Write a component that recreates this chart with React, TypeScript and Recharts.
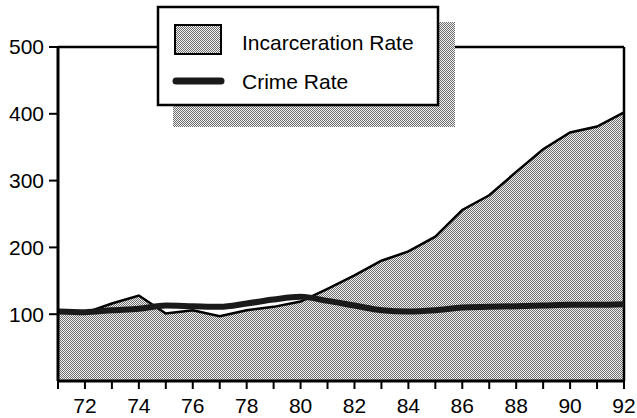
import React from 'react';
import { ComposedChart, Area, Line, XAxis, YAxis, ReferenceLine } from 'recharts';

document.body.style.margin = '0';

const years = [71, 72, 73, 74, 75, 76, 77, 78, 79, 80, 81, 82, 83, 84, 85, 86, 87, 88, 89, 90, 91, 92];
const incarcerationRate = [104, 102, 116, 128, 101, 106, 97, 106, 111, 119, 138, 158, 180, 194, 216, 256, 278, 313, 347, 372, 381, 402];
const crimeRate = [104, 103, 106, 108, 113, 112, 111, 116, 122, 126, 120, 113, 106, 104, 106, 110, 111, 112, 113, 114, 114, 115];
const yTicks = [100, 200, 300, 400, 500];

const data = years.map((year, i) => ({
  year,
  incarceration: incarcerationRate[i],
  crime: crimeRate[i],
}));

const FONT = '"Liberation Sans", Arial, Helvetica, sans-serif';

const Stipple = ({ id }: { id: string }) => (
  <pattern id={id} width="2" height="2" patternUnits="userSpaceOnUse">
    <rect width="2" height="2" fill="#f2f2f2" />
    <rect width="1" height="1" fill="#6e6e6e" />
    <rect x="1" y="1" width="1" height="1" fill="#6e6e6e" />
  </pattern>
);

// legend box with the dotted drop shadow
const LegendBox = () => (
  <svg width={320} height={140} style={{ position: 'absolute', left: 150, top: 0 }}>
    <defs>
      <Stipple id="legStip" />
    </defs>
    <rect x={23} y={22} width={282} height={105} fill="url(#legStip)" />
    <rect x={8} y={7} width={280} height={98} fill="#fff" stroke="#000" strokeWidth={2.5} />
    <rect x={25} y={25} width={46} height={29} fill="url(#legStip)" stroke="#000" strokeWidth={2} />
    <line x1={26} y1={81} x2={71} y2={81} stroke="#1a1a1a" strokeWidth={7} strokeLinecap="round" />
    <text x={92} y={50} fontFamily={FONT} fontSize={21} fill="#000">Incarceration Rate</text>
    <text x={92} y={89} fontFamily={FONT} fontSize={21} fill="#000">Crime Rate</text>
  </svg>
);

const App = () => {
  return (
    <div style={{ position: 'relative', width: 637, height: 418, background: '#fff' }}>
      <ComposedChart width={637} height={418} data={data} margin={{ top: 47, right: 13, bottom: 0, left: 0 }}>
        <defs>
          <Stipple id="areaStip" />
        </defs>
        <XAxis
          dataKey="year"
          type="number"
          domain={[71, 92]}
          ticks={years}
          interval={0}
          height={37}
          tickSize={8}
          tickMargin={9}
          tickFormatter={(v: number) => (v % 2 === 0 ? String(v) : '')}
          tick={{ fontSize: 21, fill: '#000', fontFamily: FONT }}
          axisLine={{ stroke: '#000', strokeWidth: 3 }}
          tickLine={{ stroke: '#000', strokeWidth: 2 }}
        />
        <YAxis
          type="number"
          domain={[0, 500]}
          ticks={yTicks}
          width={58}
          tickSize={9}
          tickMargin={5}
          tick={{ fontSize: 21, fill: '#000', fontFamily: FONT }}
          axisLine={{ stroke: '#000', strokeWidth: 3 }}
          tickLine={{ stroke: '#000', strokeWidth: 2 }}
        />
        <ReferenceLine y={500} stroke="#000" strokeWidth={2.5} />
        <ReferenceLine x={92} stroke="#000" strokeWidth={2.5} />
        <Area
          type="linear"
          dataKey="incarceration"
          stroke="#000"
          strokeWidth={2.5}
          fill="url(#areaStip)"
          fillOpacity={1}
          dot={false}
          activeDot={false}
          isAnimationActive={false}
        />
        <Line
          type="monotone"
          dataKey="crime"
          stroke="#1a1a1a"
          strokeWidth={6}
          dot={false}
          activeDot={false}
          isAnimationActive={false}
        />
      </ComposedChart>
      <LegendBox />
    </div>
  );
};

export default App;
